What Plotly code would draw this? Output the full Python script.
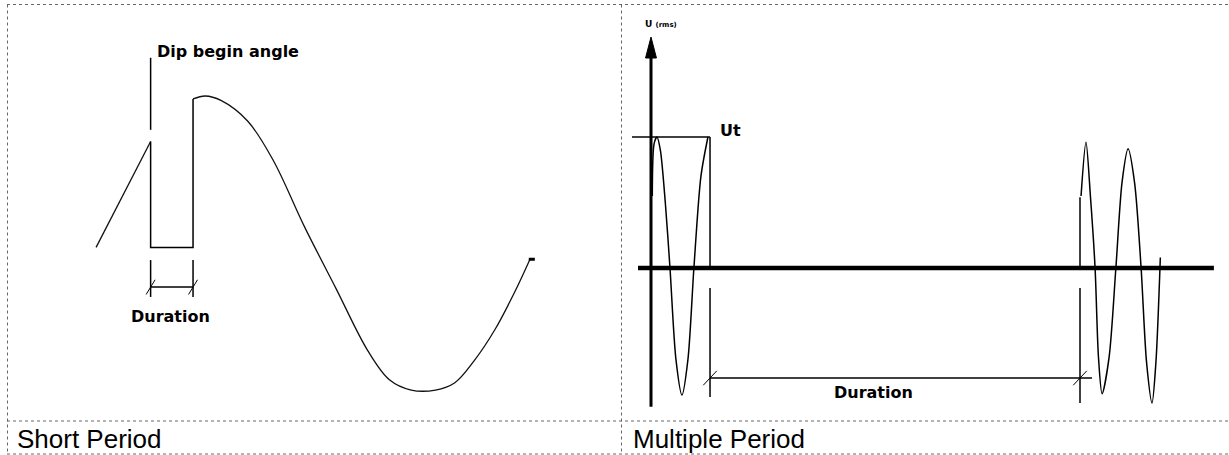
import plotly.graph_objects as go

# ---------------- data ----------------
# Left panel: short-period dip (x = electrical degrees, y = voltage in p.u.)
rise_deg = [0, 15, 30, 45]
rise_v = [-0.03, 0.21, 0.45, 0.69]
dip_deg = [45, 45, 80, 80]
dip_v = [0.69, -0.03, -0.03, 0.98]
wave_deg = [80, 90, 103, 125, 146, 172, 198, 224, 242, 260, 280, 296, 312, 329, 345, 358]
wave_v = [0.98, 1.0, 0.97, 0.83, 0.565, 0.11, -0.31, -0.73, -0.93, -1.0, -1.0, -0.95, -0.80, -0.59, -0.34, -0.11]
end_tick_deg = [357, 362]
end_tick_v = [-0.11, -0.11]
dip_begin_deg = 45
dip_end_deg = 80
dip_marker_v = [1.26, 0.77]

# Right panel: multiple-period dip (x = time in ms, y = voltage in p.u.)
wave1_t = [0.5, 1.2, 2.3, 3.6, 5.5, 7.3, 9.6, 11.9, 14.2, 16.5, 19.2, 21.9]
wave1_v = [0.55, 0.95, 1.0, 0.9, 0.5, 0.0, -0.7, -0.97, -0.7, 0.0, 0.7, 1.0]
wave2_t = [165.4, 167.3, 169.0, 170.8, 172.1, 173.5, 176.2, 178.8, 181.2, 183.5, 186.0, 188.5, 190.6, 192.7, 194.2, 195.9]
wave2_v = [0.55, 0.96, 0.55, 0.0, -0.68, -0.96, -0.68, 0.0, 0.66, 0.91, 0.65, 0.0, -0.72, -1.03, -0.72, 0.08]
ut_level = 1.0
dur_start_t = 22.7
dur_end_t = 165.0
axis_t = [-5, 216.5]
yaxis_v = [-1.06, 1.61]

captions = ["Short Period", "Multiple Period"]

W, H = 1229, 455
COL = 621.5  # column separator (px)

def px(x):
    return x / W

def py(y):
    return 1 - y / H

fig = go.Figure()
K = dict(mode="lines", showlegend=False, hoverinfo="skip")
BLK = "#000000"

# ----- left panel -----
fig.add_trace(go.Scatter(x=rise_deg, y=rise_v, line=dict(color="#111", width=1.3), **K))
fig.add_trace(go.Scatter(x=dip_deg, y=dip_v, line=dict(color=BLK, width=1.5), **K))
fig.add_trace(go.Scatter(x=wave_deg, y=wave_v, line=dict(color="#111", width=1.3, shape="spline", smoothing=1.0), **K))
fig.add_trace(go.Scatter(x=end_tick_deg, y=end_tick_v, line=dict(color=BLK, width=3), **K))
fig.add_trace(go.Scatter(x=[dip_begin_deg, dip_begin_deg], y=dip_marker_v, line=dict(color=BLK, width=1.5), **K))
# duration bracket (left)
bv_top, bv_bot, bv_mid = -0.116, -0.367, -0.30
for d in (dip_begin_deg, dip_end_deg):
    fig.add_trace(go.Scatter(x=[d, d], y=[bv_top, bv_bot], line=dict(color=BLK, width=1.5), **K))
    fig.add_trace(go.Scatter(x=[d - 3.7, d + 3.7], y=[bv_mid - 0.05, bv_mid + 0.05], line=dict(color=BLK, width=1), **K))
fig.add_trace(go.Scatter(x=[dip_begin_deg, dip_end_deg], y=[bv_mid, bv_mid], line=dict(color=BLK, width=1.5), **K))

# ----- right panel -----
K2 = dict(K, xaxis="x2", yaxis="y2")
fig.add_trace(go.Scatter(x=axis_t, y=[0, 0], line=dict(color=BLK, width=4.5), **K2))
fig.add_trace(go.Scatter(x=[0, 0], y=yaxis_v, line=dict(color=BLK, width=3), **K2))
fig.add_trace(go.Scatter(x=[-2.1, 2.1, 0, -2.1], y=[1.603, 1.603, 1.763, 1.603], fill="toself",
                         fillcolor=BLK, line=dict(color=BLK, width=1), **K2))
fig.add_trace(go.Scatter(x=[-7.3, dur_start_t], y=[ut_level, ut_level], line=dict(color=BLK, width=1.5), **K2))
fig.add_trace(go.Scatter(x=wave1_t, y=wave1_v, line=dict(color=BLK, width=1.5, shape="spline", smoothing=0.8), **K2))
fig.add_trace(go.Scatter(x=wave2_t, y=wave2_v, line=dict(color=BLK, width=1.5, shape="spline", smoothing=0.8), **K2))
# duration markers (right)
fig.add_trace(go.Scatter(x=[dur_start_t, dur_start_t], y=[ut_level, 0], line=dict(color=BLK, width=1.5), **K2))
fig.add_trace(go.Scatter(x=[dur_start_t, dur_start_t], y=[-0.153, -0.985], line=dict(color=BLK, width=1.5), **K2))
fig.add_trace(go.Scatter(x=[dur_end_t, dur_end_t], y=[0.54, 0], line=dict(color=BLK, width=1.5), **K2))
fig.add_trace(go.Scatter(x=[dur_end_t, dur_end_t], y=[-0.153, -1.03], line=dict(color=BLK, width=1.5), **K2))
fig.add_trace(go.Scatter(x=[dur_start_t, 169.6], y=[-0.84, -0.84], line=dict(color=BLK, width=1.5), **K2))
for t in (dur_start_t, dur_end_t):
    fig.add_trace(go.Scatter(x=[t - 2.6, t + 2.6], y=[-0.84 - 0.055, -0.84 + 0.055], line=dict(color=BLK, width=1), **K2))

# ----- annotations -----
bold = dict(family="DejaVu Sans", size=16, color=BLK)
A = dict(showarrow=False)
ann = [
    dict(x=48.5, y=1.30, xref="x", yref="y", text="<b>Dip begin angle</b>", xanchor="left", yanchor="middle", font=bold, **A),
    dict(x=61.5, y=-0.50, xref="x", yref="y", text="<b>Duration</b>", xanchor="center", yanchor="middle", font=bold, **A),
    dict(x=85.4, y=-0.95, xref="x2", yref="y2", text="<b>Duration</b>", xanchor="center", yanchor="middle", font=bold, **A),
    dict(x=25.8, y=1.05, xref="x2", yref="y2", text="<b>Ut</b>", xanchor="left", yanchor="middle", font=bold, **A),
    dict(x=-3.0, y=1.86, xref="x2", yref="y2", text="<b>U <span style='font-size:7px'>(rms)</span></b>",
         xanchor="left", yanchor="middle", font=dict(family="DejaVu Sans", size=9, color=BLK), **A),
    dict(x=px(15), y=py(439), xref="paper", yref="paper", text=captions[0], xanchor="left", yanchor="middle",
         font=dict(family="Liberation Sans", size=26, color=BLK), **A),
    dict(x=px(COL + 9), y=py(439), xref="paper", yref="paper", text=captions[1], xanchor="left", yanchor="middle",
         font=dict(family="Liberation Sans", size=26, color=BLK), **A),
]

# ----- table borders (dotted) -----
bc = dict(color="#666666", width=1, dash="dot")
shapes = []
for yy in (4.5, 421.0, 454.0):
    shapes.append(dict(type="line", xref="paper", yref="paper", x0=px(7), x1=1, y0=py(yy), y1=py(yy), line=bc))
for xx in (7.5, COL):
    shapes.append(dict(type="line", xref="paper", yref="paper", x0=px(xx), x1=px(xx), y0=py(4.5), y1=py(454), line=bc))

ax_common = dict(visible=False, fixedrange=True)
fig.update_layout(
    width=W, height=H,
    margin=dict(l=0, r=0, t=0, b=0),
    paper_bgcolor="white", plot_bgcolor="rgba(0,0,0,0)",
    xaxis=dict(domain=[0, COL / W], range=[-79.27, 433.5], **ax_common),
    yaxis=dict(domain=[0, 1], range=[-1.442, 1.653], **ax_common),
    xaxis2=dict(domain=[COL / W, 1], range=[(COL - 651) / 2.6, (W - 651) / 2.6], **ax_common),
    yaxis2=dict(domain=[0, 1], range=[-1.4275, 2.0458], **ax_common),
    annotations=ann,
    shapes=shapes,
)

fig.write_html("out.html", config={"displayModeBar": False},
               post_script="document.body.style.margin='0';document.body.style.overflow='hidden';")
